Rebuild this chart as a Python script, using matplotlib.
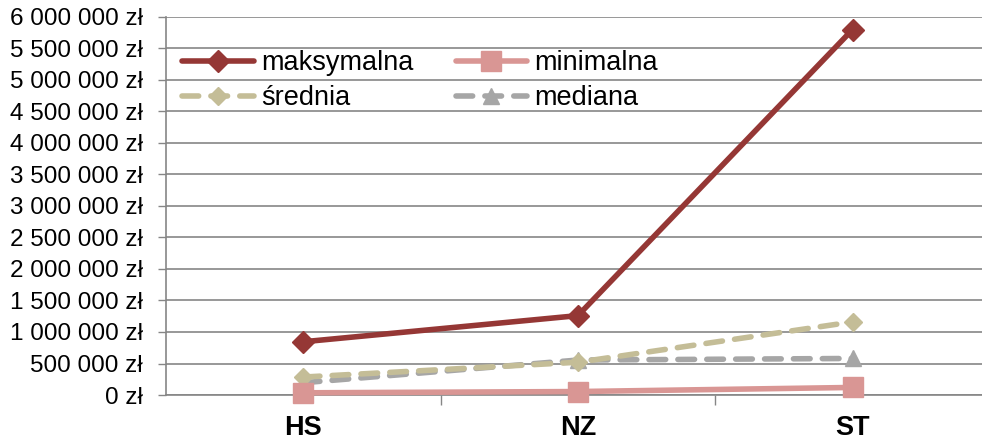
import numpy as np
import matplotlib
matplotlib.use("Agg")
import matplotlib.pyplot as plt
import matplotlib.ticker as mticker

plt.rcParams["font.family"] = ["Liberation Sans", "DejaVu Sans"]

# -----------------------------
# Data
# -----------------------------
categories = ["HS", "NZ", "ST"]
maksymalna = [845000, 1260000, 5800000]
minimalna = [35000, 55000, 120000]
srednia = [285000, 520000, 1160000]
mediana = [195000, 555000, 580000]

x = np.arange(len(categories))

fig = plt.figure(figsize=(9.82, 4.41), dpi=100)
ax = fig.add_axes([0.169, 0.1043, 0.839, 0.8572])

grid_c = "#868686"

l_med, = ax.plot(x, mediana, color="#A6A6A6", lw=4, ls=(0, (3, 2.2)), dash_capstyle="round",
                 marker="^", ms=11, label="mediana", zorder=3, clip_on=False)
l_sr, = ax.plot(x, srednia, color="#C4BD97", lw=4, ls=(0, (3, 2.2)), dash_capstyle="round",
                marker="D", ms=9, label="średnia", zorder=3, clip_on=False)
l_min, = ax.plot(x, minimalna, color="#D99694", lw=4, solid_capstyle="round",
                 marker="s", ms=15, label="minimalna", zorder=4, clip_on=False)
l_max, = ax.plot(x, maksymalna, color="#953735", lw=4, solid_capstyle="round",
                 marker="D", ms=11, label="maksymalna", zorder=5, clip_on=False)

ax.set_xlim(-0.5, 2.5)
ax.set_ylim(0, 6000000)

ax.set_yticks(np.arange(0, 6000001, 500000))
ax.yaxis.set_major_formatter(mticker.FuncFormatter(
    lambda v, _: f"{v:,.0f}".replace(",", " ") + " zł"))
ax.tick_params(axis="y", labelsize=17.5, length=6, color=grid_c, width=1, pad=10.5)

ax.set_xticks(x)
ax.set_xticklabels(categories, fontweight="bold", fontsize=19.5)
ax.set_xticks([0.5, 1.5, 2.5], minor=True)
ax.tick_params(axis="x", which="major", length=0, pad=14.5)
ax.tick_params(axis="x", which="minor", length=7, color=grid_c, width=1)

ax.grid(axis="y", color=grid_c, lw=1.2)
ax.set_axisbelow(True)
for s in ["top", "right"]:
    ax.spines[s].set_visible(False)
ax.spines["left"].set_color(grid_c)
ax.spines["bottom"].set_color(grid_c)
ax.spines["left"].set_linewidth(1.2)
ax.spines["bottom"].set_linewidth(1.2)

# column-first fill -> rows: maksymalna/minimalna, średnia/mediana
handles = [l_max, l_sr, l_min, l_med]
ax.legend(handles, [h.get_label() for h in handles], ncol=2, loc="upper left",
          bbox_to_anchor=(0.02, 0.912), frameon=False, fontsize=19.5,
          borderaxespad=0, borderpad=0,
          handlelength=2.65, handletextpad=0.26, columnspacing=1.55, labelspacing=0.33)

fig.savefig("out.png", dpi=100)
